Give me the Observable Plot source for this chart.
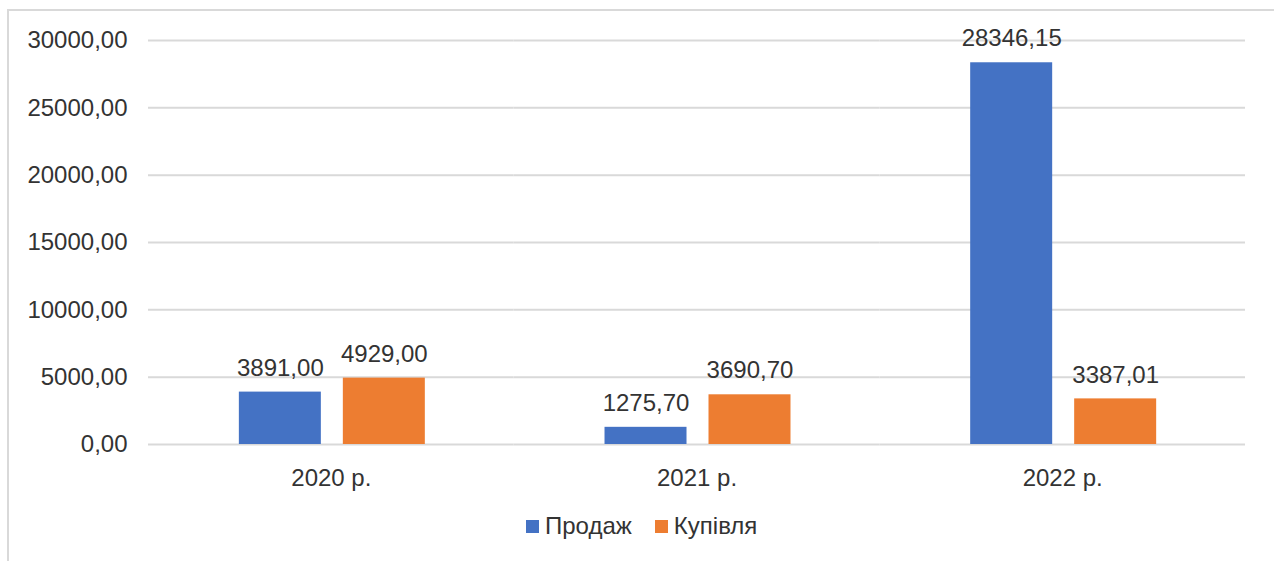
<!DOCTYPE html>
<html>
<head>
<meta charset="utf-8">
<script src="https://cdn.jsdelivr.net/npm/d3@7"></script>
<script src="https://cdn.jsdelivr.net/npm/@observablehq/plot@0.6"></script>
<style>
  html, body { margin: 0; padding: 0; background: #fff; overflow: hidden; }
  body { width: 1274px; height: 561px; position: relative; font-family: "Liberation Sans", Arial, sans-serif; }
  #frame { position: absolute; left: 7px; top: 9px; width: 1300px; height: 600px; border-left: 2px solid #d9d9d9; border-top: 2px solid #d9d9d9; }
  #chart { position: absolute; left: 0; top: 0; }
  #legend { position: absolute; left: 526px; top: 512px; display: flex; align-items: center; font-size: 24px; color: #333; }
  #legend .sw { width: 13px; height: 13px; display: inline-block; margin-right: 6px; }
  #legend .item { display: flex; align-items: center; margin-right: 23px; }
</style>
</head>
<body>
<div id="frame"></div>
<div id="chart"></div>
<div id="legend"></div>
<script>
const years = ["2020 р.", "2021 р.", "2022 р."];
const seriesNames = ["Продаж", "Купівля"];
const sales = [3891.00, 1275.70, 28346.15];
const purchases = [4929.00, 3690.70, 3387.01];
const yTicks = [0, 5000, 10000, 15000, 20000, 25000, 30000];
const colors = ["#4472c4", "#ed7d31"];

const data = [];
years.forEach((y, i) => {
  data.push({year: y, series: seriesNames[0], value: sales[i]});
  data.push({year: y, series: seriesNames[1], value: purchases[i]});
});
const fmt = v => v.toFixed(2).replace(".", ",");

const chart = Plot.plot({
  width: 1274,
  height: 500,
  marginLeft: 148,
  marginRight: 29,
  marginTop: 40,
  marginBottom: 56,
  style: {fontSize: "24px", fontFamily: "'Liberation Sans', Arial, sans-serif", color: "#333", background: "transparent"},
  fx: {domain: years, padding: 0, round: false, label: null, tickSize: 0, tickPadding: 24, axis: "bottom"},
  x: {domain: seriesNames, paddingInner: 0.2115, paddingOuter: 0.864, align: 0.5056, round: false, axis: null},
  y: {domain: [0, 30000], ticks: yTicks, tickFormat: fmt, tickSize: 0, tickPadding: 21, label: null},
  color: {domain: seriesNames, range: colors},
  marks: [
    Plot.ruleY(yTicks, {stroke: "#d9d9d9", strokeWidth: 2}),
    Plot.barY(data, {fx: "year", x: "series", y: "value", fill: "series"}),
    Plot.text(data, {fx: "year", x: "series", y: "value", text: d => fmt(d.value), dy: -24, fill: "#333"})
  ]
});
document.getElementById("chart").appendChild(chart);

const legend = document.getElementById("legend");
seriesNames.forEach((s, i) => {
  const item = document.createElement("span");
  item.className = "item";
  const sw = document.createElement("span");
  sw.className = "sw";
  sw.style.background = colors[i];
  item.appendChild(sw);
  item.appendChild(document.createTextNode(s));
  legend.appendChild(item);
});
</script>
</body>
</html>
